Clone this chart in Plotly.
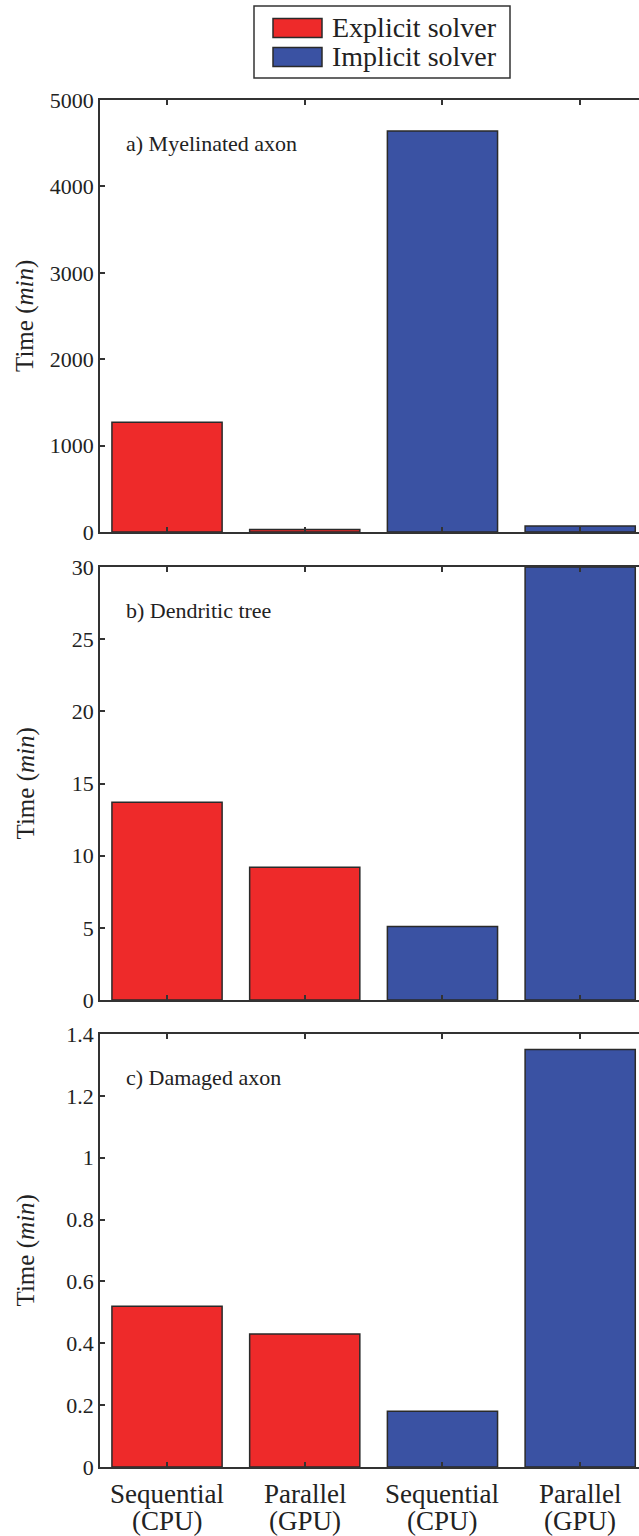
import plotly.graph_objects as go

# ---- data ----
cat_line1 = ["Sequential", "Parallel", "Sequential", "Parallel"]
cat_line2 = ["(CPU)", "(GPU)", "(CPU)", "(GPU)"]
explicit_a = [1270, 30]
implicit_a = [4640, 70]
explicit_b = [13.7, 9.2]
implicit_b = [5.1, 30]
explicit_c = [0.52, 0.43]
implicit_c = [0.18, 1.35]
panel_labels = ["a) Myelinated axon", "b) Dendritic tree", "c) Damaged axon"]
y_ranges = [[0, 5000], [0, 30], [0, 1.4]]
y_dticks = [1000, 5, 0.2]
series_names = ["Explicit solver", "Implicit solver"]
y_title = "Time (<i>min</i>)"

RED = "#EE2A2A"
BLUE = "#3A52A3"
EDGE = "#2a2a2a"
TXT = "#222"
FONT = "Liberation Serif, Times New Roman, serif"

W, H = 639, 1536
ML, MR, MT = 100, 0, 100
MB = H - 1467
plot_h = H - MT - MB
plot_w = W - ML - MR


def px(x):  # screen x -> paper
    return (x - ML) / plot_w


def py(y):  # screen y -> paper
    return (H - MB - y) / plot_h


domains = [
    [py(532), py(100)],
    [py(1000), py(567)],
    [py(1467), py(1034)],
]

fig = go.Figure()
xpos_exp = [0, 1]
xpos_imp = [2, 3]
xpos_all = xpos_exp + xpos_imp
panels = [(explicit_a, implicit_a), (explicit_b, implicit_b), (explicit_c, implicit_c)]
for i, (ex, im) in enumerate(panels):
    ax = "" if i == 0 else str(i + 1)
    fig.add_trace(go.Bar(x=xpos_exp, y=ex, width=0.8, marker=dict(color=RED, line=dict(color=EDGE, width=1.5)),
                         name=series_names[0], showlegend=False, xaxis="x" + ax, yaxis="y" + ax))
    fig.add_trace(go.Bar(x=xpos_imp, y=im, width=0.8, marker=dict(color=BLUE, line=dict(color=EDGE, width=1.5)),
                         name=series_names[1], showlegend=False, xaxis="x" + ax, yaxis="y" + ax))

x_range = [-0.4866, 3.427]
layout = dict(
    width=W, height=H,
    margin=dict(l=ML, r=MR, t=MT, b=MB, autoexpand=False),
    plot_bgcolor="white", paper_bgcolor="white",
    barmode="overlay",
    font=dict(family=FONT, color=TXT),
    showlegend=False,
)
for i in range(3):
    ax = "" if i == 0 else str(i + 1)
    layout["xaxis" + ax] = dict(
        domain=[0, 1], anchor="y" + ax, range=x_range,
        tickvals=xpos_all, showticklabels=False,
        ticks="inside", ticklen=5, tickwidth=1.5, tickcolor="#333",
        showline=True, linecolor="#333", linewidth=1.5, mirror="ticks",
        showgrid=False, zeroline=False, automargin=False,
    )
    layout["yaxis" + ax] = dict(
        domain=domains[i], anchor="x" + ax, range=y_ranges[i], dtick=y_dticks[i],
        ticks="inside", ticklen=5, tickwidth=1.5, tickcolor="#333",
        showline=True, linecolor="#333", linewidth=1.5, mirror=False,
        showgrid=False, zeroline=False, automargin=False,
        tickfont=dict(size=22, family=FONT, color=TXT),
    )
fig.update_layout(**layout)

for i in range(3):
    ax = "" if i == 0 else str(i + 1)
    fig.add_annotation(text=panel_labels[i], xref="x" + ax + " domain", yref="y" + ax + " domain",
                       x=0.045, y=0.9, xanchor="left", yanchor="middle", showarrow=False,
                       font=dict(size=22, family=FONT, color=TXT))
    fig.add_annotation(text=y_title, xref="paper", yref="y" + ax + " domain",
                       x=px(25), y=0.5, xanchor="center", yanchor="middle", textangle=-90,
                       showarrow=False, font=dict(size=25, family=FONT, color=TXT))

for xv, l1, l2 in zip(xpos_all, cat_line1, cat_line2):
    fig.add_annotation(text=l1, xref="x3", yref="paper", x=xv, y=py(1494), xanchor="center", yanchor="middle",
                       showarrow=False, font=dict(size=27, family=FONT, color=TXT))
    fig.add_annotation(text=l2, xref="x3", yref="paper", x=xv, y=py(1521), xanchor="center", yanchor="middle",
                       showarrow=False, font=dict(size=27, family=FONT, color=TXT))

# legend drawn manually (wide swatches)
fig.add_shape(type="rect", xref="paper", yref="paper", x0=px(254), x1=px(510), y0=py(78), y1=py(6),
              line=dict(color="#333", width=1.5), fillcolor="white")
for name, col, yc in [(series_names[0], RED, 28), (series_names[1], BLUE, 57)]:
    fig.add_shape(type="rect", xref="paper", yref="paper", x0=px(273), x1=px(322), y0=py(yc + 9.5), y1=py(yc - 9.5),
                  line=dict(color=EDGE, width=1.5), fillcolor=col)
    fig.add_annotation(text=name, xref="paper", yref="paper", x=px(330), y=py(yc), xanchor="left", yanchor="middle",
                       showarrow=False, font=dict(size=28, family=FONT, color=TXT))

fig.write_html("out.html", config={"displayModeBar": False},
               post_script="document.body.style.margin='0';document.body.style.overflow='hidden';")
